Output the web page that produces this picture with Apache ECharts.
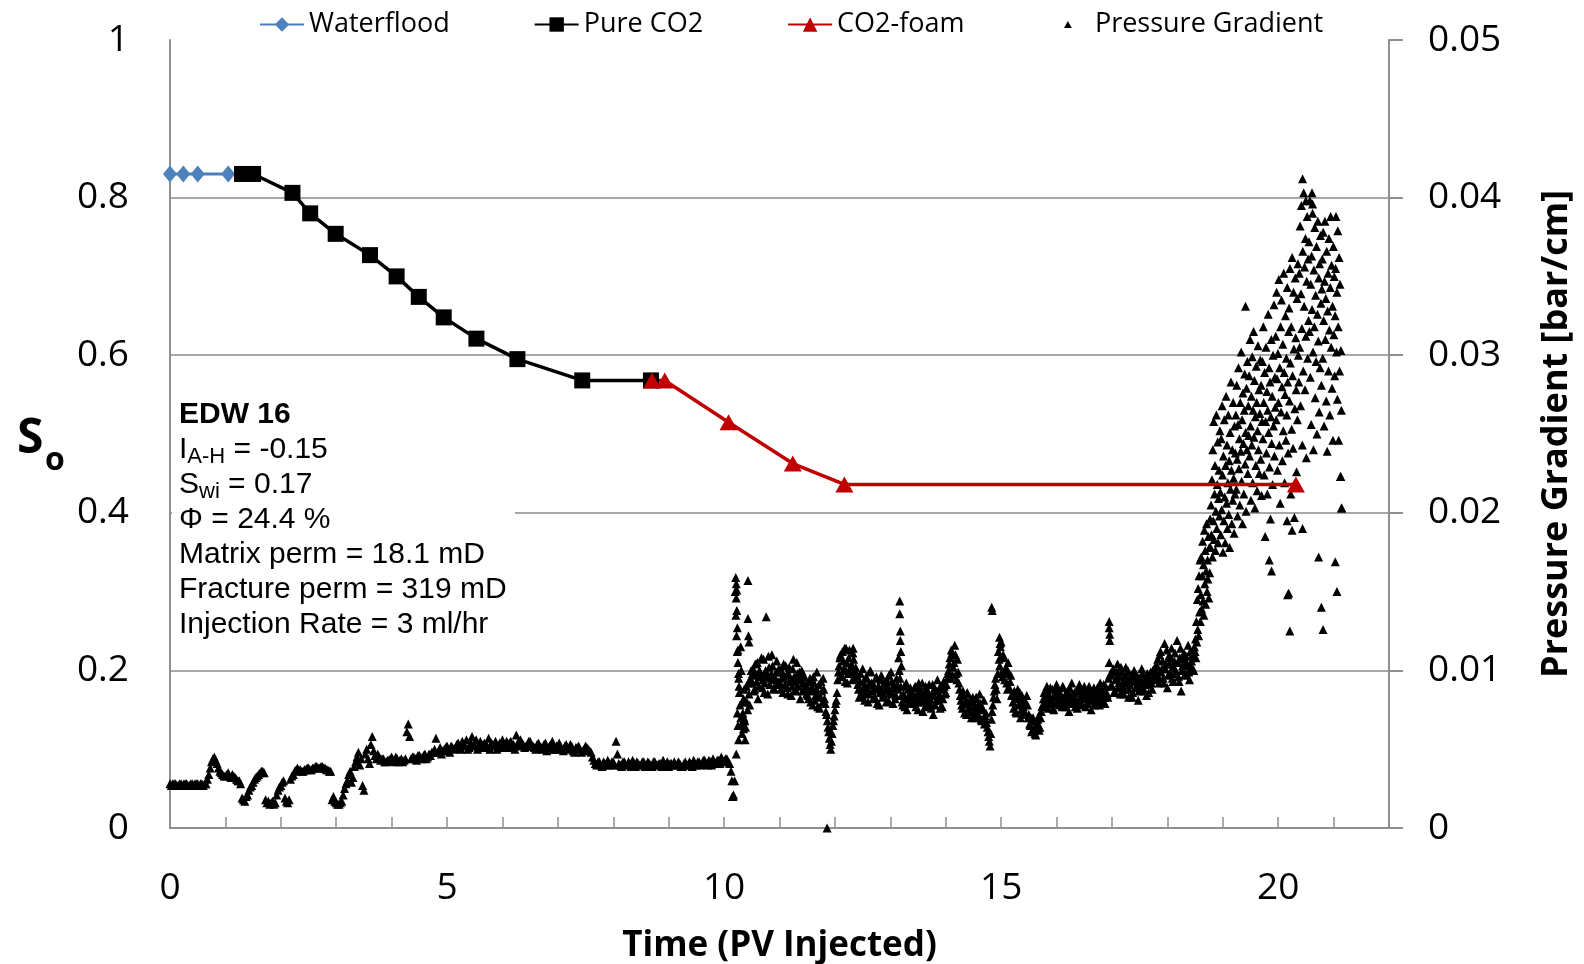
<!DOCTYPE html>
<html>
<head>
<meta charset="utf-8">
<title>EDW 16 - So and pressure gradient</title>
<script src="https://cdn.jsdelivr.net/npm/echarts@6/dist/echarts.min.js"></script>
<style>
    html, body { margin: 0; padding: 0; background: #fff; }
    #echartsArea { width: 1584px; height: 964px; }
</style>
</head>
<body>
<div id="echartsArea"></div>
<script>
// oil saturation points (PV injected / So)
var waterfloodPV = [0, 0.24, 0.5, 1.05];
var waterfloodSo = [0.83, 0.83, 0.83, 0.83];
var pureCO2PV = [1.3, 1.5, 2.21, 2.53, 2.99, 3.61, 4.09, 4.49, 4.94, 5.53, 6.27, 7.44, 8.68];
var pureCO2So = [0.83, 0.83, 0.806, 0.78, 0.754, 0.727, 0.70, 0.674, 0.648, 0.621, 0.595, 0.568, 0.568];
var foamPV = [8.7, 8.93, 10.08, 11.24, 12.17, 20.32];
var foamSo = [0.568, 0.568, 0.515, 0.4625, 0.436, 0.436];

// pressure gradient log [bar/cm], waterflood + pure CO2 part, one reading every 0.05 PV from 0
var pgEarlyStart = 0;
var pgEarlyStep = 0.05;
var pgEarly = [
    0.0028, 0.0028, 0.0028, 0.0027, 0.0028, 0.0028, 0.0028, 0.0027, 0.0028, 0.0028, 0.0028, 0.0028, 0.0027, 0.0028,
    0.0034, 0.0042, 0.0045, 0.0041, 0.0036,
    0.0034, 0.0033, 0.0035, 0.0032, 0.0033, 0.0031, 0.0030,
    0.0019, 0.0017, 0.0021,
    0.0026, 0.0029, 0.0032, 0.0034, 0.0036, 0.0035,
    0.0016, 0.0015, 0.0017, 0.0016,
    0.0024, 0.0027, 0.0030, 0.0017, 0.0018, 0.0033, 0.0036, 0.0038,
    0.0037, 0.0036, 0.0037, 0.0038, 0.0037, 0.0038, 0.0039, 0.0038, 0.0039, 0.0038, 0.0037, 0.0036,
    0.0020, 0.0016, 0.0015, 0.0017,
    0.0025, 0.0030, 0.0036, 0.0032, 0.0042, 0.0048,
    0.0044, 0.0024, 0.0050, 0.0041, 0.0058, 0.0046, 0.0047,
    0.0043, 0.0044, 0.0042, 0.0043, 0.0045, 0.0042, 0.0044, 0.0043, 0.0042, 0.0044,
    0.0066,
    0.0044, 0.0045, 0.0043, 0.0046, 0.0044, 0.0047, 0.0045, 0.0046,
    0.0048, 0.0057, 0.0049, 0.0047, 0.0050, 0.0052, 0.0048, 0.0051,
    0.0051, 0.0054, 0.0050, 0.0053, 0.0056, 0.0051, 0.0058, 0.0052, 0.0050, 0.0055,
    0.0053, 0.0051, 0.0057, 0.0054, 0.0052, 0.0050, 0.0054, 0.0056, 0.0052, 0.0051,
    0.0055, 0.0053, 0.0059, 0.0052, 0.0054, 0.0051, 0.0053, 0.0055,
    0.0052, 0.0050, 0.0054, 0.0051, 0.0053, 0.0049, 0.0052, 0.0055, 0.0050, 0.0052,
    0.0051, 0.0049, 0.0053, 0.0050, 0.0052, 0.0048, 0.0051, 0.0050, 0.0049, 0.0052,
    0.0050, 0.0048,
    0.0043, 0.0040, 0.0042, 0.0039, 0.0041, 0.0043, 0.0040, 0.0042, 0.0055, 0.0041,
    0.0039, 0.0042, 0.0040, 0.0041, 0.0043, 0.0039, 0.0041, 0.0040, 0.0042, 0.0040,
    0.0041, 0.0039, 0.0042, 0.0040, 0.0041, 0.0043, 0.0040, 0.0039, 0.0041, 0.0042,
    0.0040, 0.0041, 0.0039, 0.0042, 0.0040, 0.0041, 0.0043, 0.0040, 0.0042, 0.0041,
    0.0043, 0.0040, 0.0042, 0.0044, 0.0041, 0.0043, 0.0045, 0.0042, 0.0044, 0.0041,
    0.0020
];

// in-between readings of the early part, every 0.05 PV from 0.025
var pgEarlyMidStart = 0.025;
var pgEarlyMid = [
    0.0027, 0.0028, 0.0027, 0.0028, 0.0027, 0.0028, 0.0027, 0.0028, 0.0027, 0.0028, 0.0027, 0.0028, 0.0028, 0.0031,
    0.0038, 0.0044, 0.0043, 0.0038, 0.0035,
    0.0033, 0.0034, 0.0033, 0.0034, 0.0032, 0.0030, 0.0028,
    0.0018, 0.0020, 0.0024,
    0.0027, 0.0031, 0.0033, 0.0035, 0.0036, 0.0018,
    0.0017, 0.0016, 0.0015, 0.0021,
    0.0026, 0.0029, 0.0019, 0.0016, 0.0031, 0.0034, 0.0037, 0.0037,
    0.0036, 0.0037, 0.0038, 0.0037, 0.0038, 0.0039, 0.0038, 0.0039, 0.0038, 0.0037, 0.0036, 0.0018,
    0.0017, 0.0015, 0.0016, 0.0021,
    0.0028, 0.0034, 0.0029, 0.0039, 0.0045, 0.0040,
    0.0027, 0.0047, 0.0044, 0.0053, 0.0049, 0.0044, 0.0045,
    0.0044, 0.0042, 0.0043, 0.0044, 0.0043, 0.0045, 0.0042, 0.0044, 0.0043, 0.0061,
    0.0058,
    0.0045, 0.0044, 0.0046, 0.0045, 0.0046, 0.0044, 0.0047, 0.0048,
    0.0050, 0.0048, 0.0051, 0.0049, 0.0051, 0.0049, 0.0052, 0.0050,
    0.0053, 0.0051, 0.0055, 0.0052, 0.0050, 0.0054, 0.0053, 0.0056, 0.0052, 0.0051,
    0.0054, 0.0052, 0.0050, 0.0053, 0.0055, 0.0052, 0.0051, 0.0053, 0.0055, 0.0054,
    0.0052, 0.0050, 0.0054, 0.0056, 0.0053, 0.0052, 0.0055, 0.0052,
    0.0051, 0.0053, 0.0052, 0.0050, 0.0054, 0.0051, 0.0053, 0.0050, 0.0052, 0.0054,
    0.0050, 0.0052, 0.0051, 0.0053, 0.0049, 0.0051, 0.0052, 0.0048, 0.0050, 0.0051,
    0.0049, 0.0045,
    0.0041, 0.0042, 0.0040, 0.0042, 0.0040, 0.0041, 0.0042, 0.0040, 0.0047, 0.0040,
    0.0042, 0.0040, 0.0042, 0.0039, 0.0041, 0.0042, 0.0040, 0.0042, 0.0039, 0.0042,
    0.0040, 0.0042, 0.0040, 0.0041, 0.0039, 0.0041, 0.0042, 0.0041, 0.0040, 0.0040,
    0.0042, 0.0039, 0.0041, 0.0040, 0.0042, 0.0039, 0.0041, 0.0042, 0.0040, 0.0043,
    0.0041, 0.0043, 0.0040, 0.0042, 0.0043, 0.0041, 0.0043, 0.0044, 0.0042, 0.0036
];

// CO2-foam part, one reading every 0.025 PV from 10.2
var pgFoamStart = 10.2;
var pgFoamStep = 0.025;
var pgFoam = [
    0.0150, 0.0122, 0.0105, 0.0086, 0.0070, 0.0060, 0.0082, 0.0068, 0.0090, 0.0075, 0.0085, 0.0095,
    0.0092, 0.0101, 0.0088, 0.0097, 0.0105, 0.0090, 0.0099, 0.0108, 0.0094, 0.0086,
    0.0100, 0.0096, 0.0109, 0.0091, 0.0098, 0.0103, 0.0089, 0.0095, 0.0106, 0.0093,
    0.0099, 0.0088, 0.0096, 0.0104, 0.0091, 0.0097, 0.0085, 0.0102, 0.0094, 0.0090,
    0.0107, 0.0093, 0.0087, 0.0098, 0.0095, 0.0082, 0.0100, 0.0092, 0.0096, 0.0089,
    0.0090, 0.0082, 0.0095, 0.0087, 0.0078, 0.0092, 0.0084, 0.0099, 0.0086, 0.0076, 0.0093, 0.0080, 0.0088, 0.0079,
    0.0072, 0.0064, 0.0057, 0.0050, 0.0060, 0.0068, 0.0075, 0.0081,
    0.0094, 0.0103, 0.0110, 0.0097, 0.0106, 0.0114, 0.0100, 0.0092, 0.0108, 0.0099, 0.0104, 0.0111, 0.0095, 0.0102,
    0.0097, 0.0088, 0.0093, 0.0084, 0.0101, 0.0090, 0.0086, 0.0095, 0.0080, 0.0092,
    0.0099, 0.0087, 0.0091, 0.0083, 0.0096, 0.0089, 0.0078, 0.0094, 0.0088, 0.0085,
    0.0092, 0.0080, 0.0090, 0.0097, 0.0086, 0.0093, 0.0079, 0.0089, 0.0084, 0.0091,
    0.0108, 0.0095, 0.0084, 0.0078, 0.0090, 0.0082, 0.0075, 0.0088, 0.0081, 0.0086,
    0.0086, 0.0079, 0.0090, 0.0082, 0.0075, 0.0088, 0.0084, 0.0092, 0.0080, 0.0077,
    0.0087, 0.0083, 0.0091, 0.0078, 0.0085, 0.0072, 0.0089, 0.0081, 0.0094, 0.0084,
    0.0076, 0.0088, 0.0082, 0.0090, 0.0086, 0.0095,
    0.0100, 0.0108, 0.0113, 0.0097, 0.0105, 0.0110, 0.0094, 0.0099,
    0.0088, 0.0081, 0.0076, 0.0084, 0.0079, 0.0072, 0.0085, 0.0077, 0.0082, 0.0074,
    0.0080, 0.0070, 0.0083, 0.0076, 0.0071, 0.0079, 0.0068, 0.0075, 0.0066, 0.0073,
    0.0064, 0.0058, 0.0052, 0.0069, 0.0078, 0.0087, 0.0095, 0.0082,
    0.0112, 0.0103, 0.0118, 0.0096, 0.0108, 0.0100, 0.0092, 0.0105, 0.0089, 0.0097,
    0.0085, 0.0076, 0.0082, 0.0073, 0.0088, 0.0079, 0.0070, 0.0084, 0.0077, 0.0081, 0.0072, 0.0078,
    0.0072, 0.0065, 0.0061, 0.0070, 0.0063, 0.0059, 0.0067, 0.0071, 0.0064, 0.0074,
    0.0078, 0.0086, 0.0081, 0.0090, 0.0076, 0.0084, 0.0080, 0.0088, 0.0075, 0.0083,
    0.0091, 0.0079, 0.0085, 0.0082, 0.0077, 0.0089, 0.0084, 0.0080, 0.0087, 0.0074,
    0.0083, 0.0092, 0.0079, 0.0086, 0.0081, 0.0076, 0.0088, 0.0083, 0.0079, 0.0085,
    0.0090, 0.0077, 0.0084, 0.0081, 0.0087, 0.0075, 0.0083, 0.0089, 0.0080, 0.0086,
    0.0082, 0.0078, 0.0088, 0.0084, 0.0091, 0.0079, 0.0086, 0.0083,
    0.0105, 0.0098, 0.0090, 0.0101, 0.0087, 0.0095, 0.0104, 0.0092, 0.0085, 0.0099,
    0.0093, 0.0088, 0.0102, 0.0096, 0.0083, 0.0091, 0.0097, 0.0086, 0.0100, 0.0094,
    0.0089, 0.0081, 0.0095, 0.0090, 0.0098, 0.0087, 0.0093, 0.0084, 0.0096, 0.0091,
    0.0099, 0.0088, 0.0094, 0.0102,
    0.0098, 0.0107, 0.0092, 0.0112, 0.0101, 0.0095, 0.0117, 0.0104, 0.0089, 0.0109,
    0.0099, 0.0114, 0.0093, 0.0106, 0.0100, 0.0119, 0.0096, 0.0108, 0.0087, 0.0103,
    0.0111, 0.0098, 0.0105, 0.0116, 0.0094, 0.0102, 0.0110, 0.0100
];

// in-between readings of the CO2-foam part, every 0.025 PV from 10.2125
var pgFoamMidStart = 10.2125;
var pgFoamMid = [
    0.0135, 0.0112, 0.0095, 0.0078, 0.0066, 0.0073, 0.0088, 0.0064, 0.0080, 0.0092, 0.0078, 0.0100,
    0.0098, 0.0087, 0.0104, 0.0093, 0.0082, 0.0100, 0.0096, 0.0089, 0.0107, 0.0092,
    0.0097, 0.0085, 0.0102, 0.0095, 0.0110, 0.0088, 0.0094, 0.0099, 0.0091, 0.0101,
    0.0092, 0.0100, 0.0086, 0.0095, 0.0103, 0.0089, 0.0098, 0.0093, 0.0084, 0.0101,
    0.0096, 0.0088, 0.0105, 0.0090, 0.0099, 0.0094, 0.0087, 0.0097, 0.0091, 0.0085,
    0.0084, 0.0093, 0.0080, 0.0089, 0.0096, 0.0081, 0.0088, 0.0077, 0.0091, 0.0083, 0.0087, 0.0095, 0.0082, 0.0074,
    0.0068, 0.0061, 0.0053, 0.0055, 0.0065, 0.0071, 0.0079, 0.0086,
    0.0099, 0.0108, 0.0096, 0.0112, 0.0101, 0.0093, 0.0105, 0.0098, 0.0113, 0.0102, 0.0094, 0.0107, 0.0100, 0.0097,
    0.0091, 0.0083, 0.0098, 0.0087, 0.0093, 0.0081, 0.0096, 0.0089, 0.0085, 0.0100,
    0.0092, 0.0082, 0.0088, 0.0095, 0.0079, 0.0090, 0.0086, 0.0097, 0.0083, 0.0092,
    0.0088, 0.0094, 0.0081, 0.0087, 0.0099, 0.0085, 0.0091, 0.0082, 0.0095, 0.0088,
    0.0100, 0.0090, 0.0080, 0.0085, 0.0077, 0.0092, 0.0083, 0.0079, 0.0089, 0.0084,
    0.0081, 0.0089, 0.0077, 0.0085, 0.0092, 0.0080, 0.0087, 0.0074, 0.0083, 0.0090,
    0.0079, 0.0086, 0.0082, 0.0076, 0.0091, 0.0084, 0.0078, 0.0087, 0.0081, 0.0089,
    0.0083, 0.0077, 0.0093, 0.0085, 0.0091, 0.0098,
    0.0104, 0.0095, 0.0111, 0.0102, 0.0116, 0.0098, 0.0107, 0.0092,
    0.0084, 0.0078, 0.0087, 0.0073, 0.0081, 0.0086, 0.0075, 0.0080, 0.0070, 0.0083,
    0.0077, 0.0082, 0.0073, 0.0078, 0.0085, 0.0069, 0.0076, 0.0081, 0.0071, 0.0067,
    0.0061, 0.0055, 0.0060, 0.0074, 0.0083, 0.0091, 0.0088, 0.0098,
    0.0107, 0.0115, 0.0099, 0.0110, 0.0094, 0.0102, 0.0088, 0.0098, 0.0093, 0.0084,
    0.0080, 0.0087, 0.0074, 0.0083, 0.0078, 0.0086, 0.0075, 0.0081, 0.0073, 0.0079, 0.0084, 0.0070,
    0.0066, 0.0070, 0.0062, 0.0068, 0.0060, 0.0065, 0.0069, 0.0062, 0.0070, 0.0077,
    0.0082, 0.0077, 0.0087, 0.0083, 0.0079, 0.0089, 0.0081, 0.0076, 0.0085, 0.0088,
    0.0080, 0.0086, 0.0078, 0.0084, 0.0090, 0.0081, 0.0077, 0.0086, 0.0082, 0.0089,
    0.0079, 0.0085, 0.0083, 0.0077, 0.0087, 0.0080, 0.0091, 0.0084, 0.0078, 0.0088,
    0.0082, 0.0086, 0.0079, 0.0090, 0.0083, 0.0087, 0.0081, 0.0078, 0.0085, 0.0089,
    0.0084, 0.0092, 0.0080, 0.0087, 0.0083, 0.0090, 0.0085, 0.0095,
    0.0097, 0.0091, 0.0100, 0.0086, 0.0094, 0.0099, 0.0089, 0.0096, 0.0102, 0.0090,
    0.0085, 0.0097, 0.0092, 0.0100, 0.0088, 0.0095, 0.0083, 0.0093, 0.0098, 0.0090,
    0.0096, 0.0087, 0.0092, 0.0101, 0.0089, 0.0095, 0.0091, 0.0098, 0.0086, 0.0094,
    0.0092, 0.0100, 0.0097, 0.0095,
    0.0103, 0.0096, 0.0110, 0.0099, 0.0106, 0.0092, 0.0101, 0.0113, 0.0097, 0.0104,
    0.0108, 0.0095, 0.0102, 0.0111, 0.0098, 0.0105, 0.0093, 0.0114, 0.0100, 0.0107,
    0.0097, 0.0109, 0.0103, 0.0099, 0.0112, 0.0106, 0.0101, 0.0115
];

// foam breakthrough, one reading every 0.008 PV from 18.5
var pgLateStart = 18.5;
var pgLateStep = 0.008;
var pgLate = [
    0.0112, 0.0120, 0.0108, 0.0131, 0.0118, 0.0145, 0.0126, 0.0152, 0.0122, 0.0160, 0.0137, 0.0170, 0.0131,
    0.0148, 0.0172, 0.0139, 0.0160, 0.0182, 0.0144, 0.0167, 0.0135, 0.0189, 0.0155, 0.0176,
    0.0142, 0.0163, 0.0193, 0.0150, 0.0170, 0.0158, 0.0185, 0.0146, 0.0178, 0.0162, 0.0196,
    0.0178, 0.0205, 0.0186, 0.0221, 0.0172, 0.0240, 0.0195, 0.0258, 0.0183, 0.0212, 0.0230,
    0.0176, 0.0201, 0.0262, 0.0190, 0.0218, 0.0245, 0.0181, 0.0209, 0.0227, 0.0198, 0.0252,
    0.0213, 0.0186, 0.0247, 0.0202, 0.0268, 0.0224, 0.0175, 0.0236, 0.0195, 0.0259, 0.0210, 0.0181,
    0.0230, 0.0274, 0.0206, 0.0243, 0.0190, 0.0219, 0.0262, 0.0199, 0.0233, 0.0178, 0.0251, 0.0215,
    0.0283, 0.0227, 0.0193, 0.0240, 0.0208, 0.0270, 0.0222, 0.0187, 0.0255, 0.0212, 0.0238,
    0.0262, 0.0215, 0.0281, 0.0234, 0.0198, 0.0256, 0.0292, 0.0228, 0.0247, 0.0205, 0.0270, 0.0239,
    0.0302, 0.0220, 0.0259, 0.0193, 0.0276, 0.0244, 0.0212, 0.0265, 0.0288, 0.0231, 0.0251, 0.0201,
    0.0279, 0.0240, 0.0296, 0.0225, 0.0268, 0.0249,
    0.0287, 0.0236, 0.0310, 0.0255, 0.0208, 0.0274, 0.0243, 0.0299, 0.0219, 0.0265, 0.0315, 0.0248,
    0.0284, 0.0203, 0.0261, 0.0230, 0.0293, 0.0270, 0.0214, 0.0252, 0.0306, 0.0240, 0.0278, 0.0225,
    0.0263, 0.0297, 0.0234, 0.0281, 0.0211, 0.0258,
    0.0296, 0.0247, 0.0318, 0.0270, 0.0224, 0.0289, 0.0185, 0.0258, 0.0305, 0.0238, 0.0277, 0.0212,
    0.0265, 0.0326, 0.0251, 0.0292, 0.0229, 0.0283, 0.0196, 0.0261, 0.0310, 0.0244, 0.0274, 0.0218,
    0.0300, 0.0255, 0.0332, 0.0236, 0.0286, 0.0267,
    0.0312, 0.0259, 0.0340, 0.0285, 0.0227, 0.0301, 0.0270, 0.0348, 0.0243, 0.0292, 0.0206, 0.0318,
    0.0264, 0.0335, 0.0280, 0.0233, 0.0307, 0.0252, 0.0352, 0.0289, 0.0219, 0.0275, 0.0325, 0.0246,
    0.0298, 0.0262, 0.0343, 0.0283, 0.0238, 0.0315,
    0.0330, 0.0271, 0.0355, 0.0295, 0.0212, 0.0318, 0.0253, 0.0362, 0.0287, 0.0241, 0.0340, 0.0304,
    0.0197, 0.0266, 0.0349, 0.0311, 0.0278, 0.0226, 0.0336, 0.0259, 0.0358, 0.0300, 0.0283,
    0.0352, 0.0305, 0.0382, 0.0268, 0.0339, 0.0395, 0.0317, 0.0243, 0.0366, 0.0290, 0.0403,
    0.0331, 0.0356, 0.0278, 0.0374, 0.0312, 0.0235, 0.0347, 0.0388, 0.0298, 0.0361, 0.0322,
    0.0372, 0.0315, 0.0398, 0.0286, 0.0345, 0.0256, 0.0363, 0.0329, 0.0390, 0.0302, 0.0240, 0.0354,
    0.0318, 0.0381, 0.0273, 0.0338, 0.0296, 0.0369, 0.0250, 0.0326, 0.0385, 0.0309, 0.0349, 0.0264,
    0.0358, 0.0292, 0.0376, 0.0333, 0.0281, 0.0342,
    0.0361, 0.0298, 0.0378, 0.0322, 0.0255, 0.0347, 0.0385, 0.0310, 0.0336, 0.0271, 0.0366, 0.0239,
    0.0328, 0.0352, 0.0290, 0.0374, 0.0316, 0.0262, 0.0343, 0.0388, 0.0305, 0.0357, 0.0279, 0.0331,
    0.0246, 0.0369, 0.0313, 0.0350, 0.0287, 0.0325,
    0.0355, 0.0388, 0.0302, 0.0340, 0.0272, 0.0379, 0.0318, 0.0246, 0.0362, 0.0290, 0.0345, 0.0223,
    0.0303, 0.0265, 0.0203
];

// single readings off the main trend (spikes, drops)
var pgSpikes = [
    [10.14, 0.0030], [10.16, 0.0020], [10.17, 0.0021], [10.19, 0.0030],
    [10.21, 0.0159], [10.22, 0.0155], [10.23, 0.0151], [10.22, 0.0146], [10.23, 0.0138], [10.24, 0.0127],
    [10.25, 0.0113], [10.26, 0.0098], [10.27, 0.0090], [10.24, 0.0073], [10.25, 0.0065], [10.26, 0.0056],
    [10.22, 0.0047], [10.30, 0.0115], [10.31, 0.0100], [10.33, 0.0080], [10.35, 0.0063], [10.36, 0.0070],
    [10.38, 0.0056], [10.43, 0.0157], [10.43, 0.0133], [10.44, 0.0122], [10.45, 0.0118], [10.76, 0.0134],
    [11.86, 0.0000], [12.20, 0.0114], [12.33, 0.0114],
    [13.17, 0.0144], [13.17, 0.0136], [13.18, 0.0125], [13.18, 0.0119], [13.19, 0.0112], [13.20, 0.0103],
    [14.83, 0.0140], [14.84, 0.0138], [14.97, 0.0121], [14.98, 0.0117],
    [16.95, 0.0131], [16.95, 0.0127], [16.96, 0.0123], [16.96, 0.0119],
    [19.41, 0.0331], [19.84, 0.0170], [19.88, 0.0163], [20.16, 0.0195], [20.17, 0.0148], [20.19, 0.0149],
    [20.21, 0.0125], [20.25, 0.0189], [20.44, 0.0190], [20.44, 0.0412], [20.50, 0.0398], [20.61, 0.0403],
    [20.62, 0.0396], [20.73, 0.0172], [20.78, 0.0140], [20.81, 0.0126], [21.03, 0.0169], [21.06, 0.0150],
    [21.13, 0.0223], [21.14, 0.0203]
];

var xTicks = [0, 5, 10, 15, 20];

function zip(xs, ys) {
    var out = [];
    for (var i = 0; i < xs.length; i++) {
        out.push([xs[i], ys[i]]);
    }
    return out;
}

function logToPoints(start, step, values, out) {
    for (var i = 0; i < values.length; i++) {
        out.push([+(start + i * step).toFixed(4), values[i]]);
    }
}

var pgData = [];
logToPoints(pgEarlyStart, pgEarlyStep, pgEarly, pgData);
logToPoints(pgEarlyMidStart, pgEarlyStep, pgEarlyMid, pgData);
logToPoints(pgFoamStart, pgFoamStep, pgFoam, pgData);
logToPoints(pgFoamMidStart, pgFoamStep, pgFoamMid, pgData);
logToPoints(pgLateStart, pgLateStep, pgLate, pgData);
pgSpikes.forEach(function (p) { pgData.push(p); });

var axisGray = '#8f8f8f';
var gridGray = '#a8a8a8';
var legendFont = { fontFamily: 'Open Sans', fontSize: 27, color: '#000' };

var dom = document.getElementById('echartsArea');
var myChart = echarts.init(dom, null, { renderer: 'canvas' });

var option = {
    animation: false,
    backgroundColor: '#fff',
    legend: [
        {
            data: ['Waterflood', 'Pure CO2', 'CO2-foam'],
            left: 254,
            top: 6,
            itemWidth: 44,
            itemHeight: 18,
            itemGap: 84,
            textStyle: legendFont
        },
        {
            // small triangle, kept at its own aspect inside the wide icon box
            data: [{ name: 'Pressure Gradient', icon: 'path://M5,0L10,9L0,9Z' }],
            left: 1059,
            top: 6,
            itemWidth: 44,
            itemHeight: 7,
            symbolKeepAspect: true,
            textStyle: legendFont
        }
    ],
    grid: {
        left: 170,
        right: 195,
        top: 40,
        bottom: 136,
        containLabel: false,
        outerBoundsMode: 'none'
    },
    xAxis: {
        type: 'value',
        min: 0,
        max: 22,
        interval: 1,
        name: 'Time (PV Injected)',
        nameLocation: 'middle',
        nameGap: 101,
        nameTextStyle: { fontFamily: 'Open Sans', fontSize: 35, fontWeight: 'bold', color: '#000' },
        axisLine: { lineStyle: { color: axisGray, width: 2 } },
        axisTick: { inside: true, length: 11, lineStyle: { color: axisGray, width: 1.5 } },
        axisLabel: {
            margin: 42,
            fontFamily: 'Open Sans',
            fontSize: 37,
            color: '#000',
            formatter: function (v) {
                return xTicks.indexOf(v) >= 0 ? String(v) : '';
            }
        },
        splitLine: { show: false }
    },
    yAxis: [
        {
            type: 'value',
            min: 0,
            max: 1,
            interval: 0.2,
            axisLine: { show: true, lineStyle: { color: axisGray, width: 2 } },
            axisTick: { show: false },
            axisLabel: { margin: 41, fontFamily: 'Open Sans', fontSize: 37, color: '#000' },
            splitLine: { show: true, showMaxLine: false, lineStyle: { color: gridGray, width: 2 } }
        },
        {
            type: 'value',
            min: 0,
            max: 0.05,
            interval: 0.01,
            position: 'right',
            name: 'Pressure Gradient [bar/cm]',
            nameLocation: 'middle',
            nameRotate: 90,
            nameGap: 150,
            nameTextStyle: { fontFamily: 'Open Sans', fontSize: 36, fontWeight: 'bold', color: '#000' },
            axisLine: { show: true, lineStyle: { color: axisGray, width: 2 } },
            axisTick: { show: true, inside: false, length: 14, lineStyle: { color: axisGray, width: 2 } },
            axisLabel: { margin: 39, fontFamily: 'Open Sans', fontSize: 37, color: '#000' },
            splitLine: { show: false }
        }
    ],
    graphic: [
        {
            type: 'rect',
            shape: { x: 172, y: 396, width: 343, height: 244 },
            style: { fill: '#fff' },
            z: 5
        },
        {
            type: 'text',
            x: 179,
            y: 397.5,
            z: 6,
            style: {
                verticalAlign: 'top',
                text: [
                    '{b|EDW 16}',
                    '{n|I}{sub|A-H}{n| = -0.15}',
                    '{n|S}{sub|wi}{n| = 0.17}',
                    '{n|\u03A6 = 24.4 %}',
                    '{n|Matrix perm = 18.1 mD}',
                    '{n|Fracture perm = 319 mD}',
                    '{n|Injection Rate = 3 ml/hr}'
                ].join('\n'),
                rich: {
                    b: { fontFamily: 'Liberation Sans', fontSize: 30, fontWeight: 'bold', lineHeight: 35, fill: '#000' },
                    n: { fontFamily: 'Liberation Sans', fontSize: 30, lineHeight: 35, fill: '#000' },
                    sub: { fontFamily: 'Liberation Sans', fontSize: 22, lineHeight: 19, verticalAlign: 'bottom', fill: '#000' }
                }
            }
        },
        {
            type: 'text',
            x: 17,
            y: 439,
            z: 6,
            style: { text: 'S', fontFamily: 'Open Sans', fontSize: 48, fontWeight: 'bold', verticalAlign: 'middle', fill: '#000' }
        },
        {
            type: 'text',
            x: 45,
            y: 461,
            z: 6,
            style: { text: 'o', fontFamily: 'Open Sans', fontSize: 32, fontWeight: 'bold', verticalAlign: 'middle', fill: '#000' }
        }
    ],
    series: [
        {
            name: 'Waterflood',
            type: 'line',
            data: zip(waterfloodPV, waterfloodSo),
            symbol: 'diamond',
            symbolSize: [14, 17],
            itemStyle: { color: '#4f81bd' },
            lineStyle: { color: '#4a7ebb', width: 3 }
        },
        {
            name: 'Pure CO2',
            type: 'line',
            data: zip(pureCO2PV, pureCO2So),
            symbol: 'rect',
            symbolSize: 16,
            itemStyle: { color: '#000' },
            lineStyle: { color: '#000', width: 3.5 }
        },
        {
            name: 'CO2-foam',
            type: 'line',
            data: zip(foamPV, foamSo),
            symbol: 'triangle',
            symbolSize: [18, 16],
            itemStyle: { color: '#c00000' },
            lineStyle: { color: '#c00000', width: 3.5 }
        },
        {
            name: 'Pressure Gradient',
            type: 'scatter',
            yAxisIndex: 1,
            data: pgData,
            symbol: 'triangle',
            symbolSize: [9, 9],
            itemStyle: { color: '#000', opacity: 1 }
        }
    ]
};

myChart.setOption(option);
</script>
</body>
</html>
